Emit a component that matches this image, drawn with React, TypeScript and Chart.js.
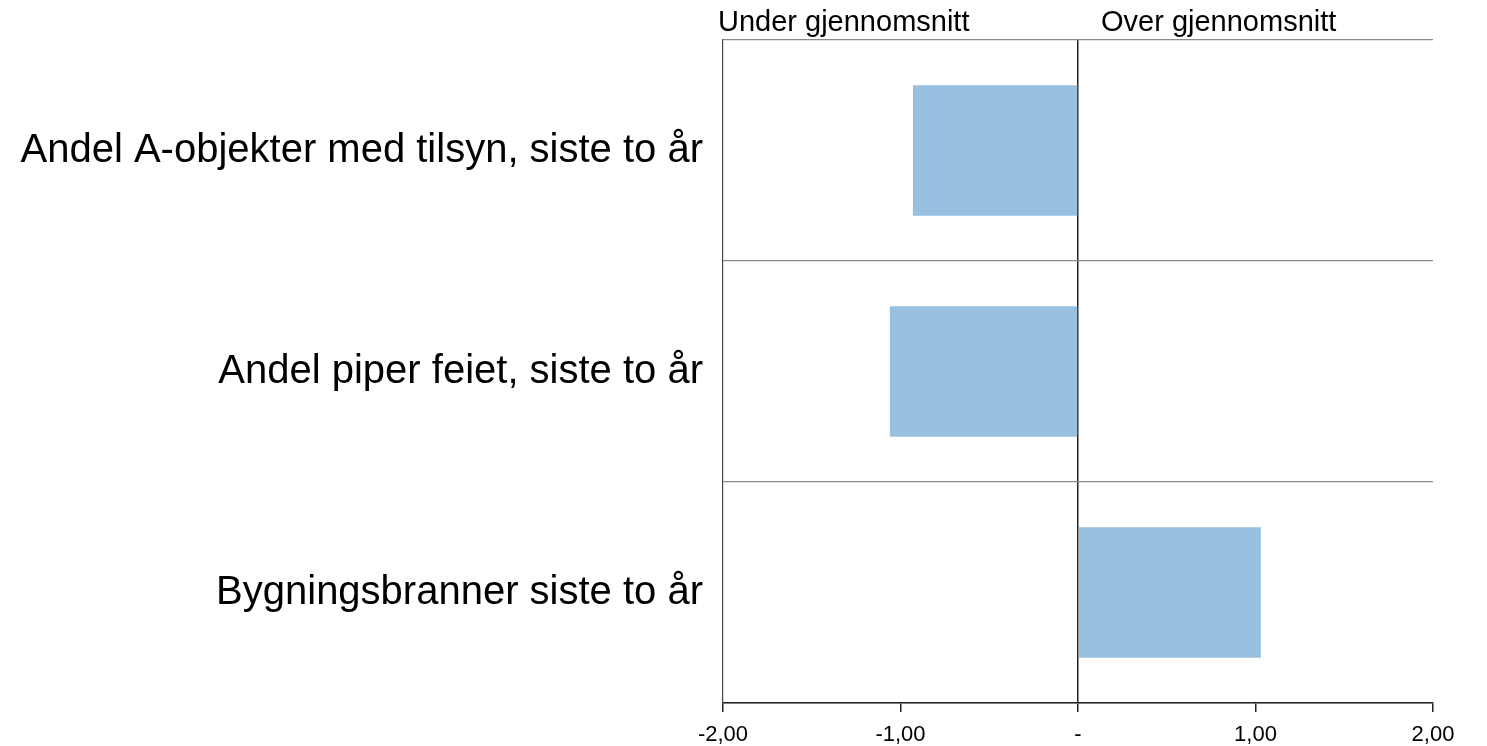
import React, { useEffect, useRef } from "react";
import { Chart, registerables } from "chart.js";

Chart.register(...registerables);

const categories = [
  "Andel A-objekter med tilsyn, siste to år",
  "Andel piper feiet, siste to år",
  "Bygningsbranner siste to år",
];
const values = [-0.93, -1.06, 1.03];
const xTicks = [-2, -1, 0, 1, 2];
const headerLeft = "Under gjennomsnitt";
const headerRight = "Over gjennomsnitt";

const FONT = "'Liberation Sans', Arial, Helvetica, sans-serif";

const headerPlugin = {
  id: "headers",
  afterDraw(chart: any) {
    const { ctx, chartArea, scales } = chart;
    const zeroX = scales.x.getPixelForValue(0);
    ctx.save();
    ctx.fillStyle = "#000";
    ctx.font = `29px ${FONT}`;
    ctx.textBaseline = "alphabetic";
    ctx.textAlign = "left";
    ctx.fillText(headerLeft, chartArea.left - 5, 31);
    ctx.fillText(headerRight, zeroX + 23, 31);
    ctx.restore();
  },
};

export default function App() {
  const ref = useRef<HTMLCanvasElement | null>(null);

  useEffect(() => {
    if (!ref.current) return;
    const chart = new Chart(ref.current, {
      type: "bar",
      data: {
        labels: categories,
        datasets: [
          {
            data: values,
            backgroundColor: "#98C1E1",
            borderWidth: 0,
            categoryPercentage: 1,
            barPercentage: 0.59,
          },
        ],
      },
      options: {
        indexAxis: "y",
        animation: false,
        responsive: false,
        maintainAspectRatio: false,
        layout: { padding: { top: 40, right: 54, bottom: 0, left: 0 } },
        plugins: {
          legend: { display: false },
          tooltip: { enabled: false },
          title: { display: false },
        },
        scales: {
          x: {
            type: "linear",
            min: -2,
            max: 2,
            afterBuildTicks(scale: any) {
              scale.ticks = xTicks.map((v) => ({ value: v }));
            },
            afterFit(scale: any) {
              scale.height = 43;
              scale.paddingLeft = 0;
              scale.paddingRight = 0;
            },
            ticks: {
              color: "#000",
              font: { family: FONT, size: 22 },
              padding: 10,
              maxRotation: 0,
              autoSkip: false,
              callback: (v: any) =>
                Number(v) === 0 ? "-" : Number(v).toFixed(2).replace(".", ","),
            },
            grid: {
              drawOnChartArea: true,
              color: (ctx: any) =>
                ctx.tick && ctx.tick.value === 0 ? "#222" : "rgba(0,0,0,0)",
              tickColor: "#222",
              tickLength: 9,
              lineWidth: 1.5,
            },
            border: { display: true, color: "#222", width: 1.5 },
          },
          y: {
            afterFit(scale: any) {
              scale.width = 723;
              scale.paddingTop = 0;
              scale.paddingBottom = 0;
            },
            ticks: {
              color: "#000",
              font: { family: FONT, size: 40 },
              padding: 20,
            },
            grid: {
              offset: true,
              color: "#8a8a8a",
              lineWidth: 1.2,
              drawTicks: false,
            },
            border: { display: true, color: "#444", width: 1.2 },
          },
        },
      },
      plugins: [headerPlugin],
    });
    return () => chart.destroy();
  }, []);

  return (
    <div style={{ position: "fixed", left: 0, top: 0, width: 1487, height: 746, background: "#fff" }}>
      <canvas ref={ref} width={1487} height={746} style={{ display: "block" }} />
    </div>
  );
}
